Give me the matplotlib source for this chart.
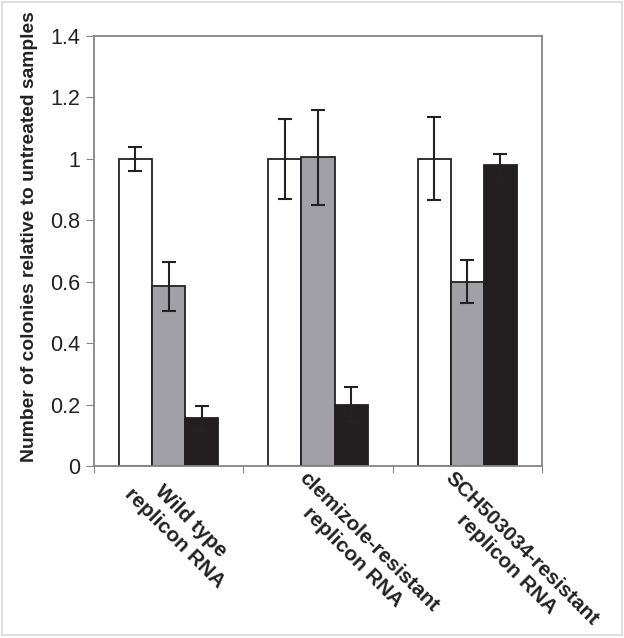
import numpy as np
import matplotlib.pyplot as plt
import matplotlib.transforms as mtransforms
from matplotlib.patches import Rectangle

# data
groups = ["Wild type\nreplicon RNA", "clemizole-resistant\nreplicon RNA", "SCH503034-resistant\nreplicon RNA"]
untreated = [1.0, 1.0, 1.0]
untreated_err = [0.04, 0.13, 0.135]
clemizole = [0.585, 1.005, 0.6]
clemizole_err = [0.08, 0.155, 0.07]
sch = [0.155, 0.2, 0.98]
sch_err = [0.04, 0.058, 0.035]

plt.rcParams['font.family'] = ['Liberation Sans', 'DejaVu Sans']

fig = plt.figure(figsize=(6.24, 6.38), dpi=100)
ax = fig.add_axes([0.1506, 0.2696, 0.718, 0.674])

x = np.arange(len(groups))
w = 0.222
ekw = dict(ecolor='#222222', elinewidth=1.5, capsize=5, capthick=1.5)
ax.bar(x - w, untreated, w, color='white', edgecolor='#222222', linewidth=1.3,
       yerr=untreated_err, error_kw=ekw, zorder=2)
ax.bar(x, clemizole, w, color='#a0a0a6', edgecolor='#222222', linewidth=1.3,
       yerr=clemizole_err, error_kw=ekw, zorder=2)
ax.bar(x + w, sch, w, color='#231f20', edgecolor='#231f20', linewidth=1.3,
       yerr=sch_err, error_kw=ekw, zorder=2)

ax.set_xlim(-0.5, 2.5)
ax.set_ylim(0, 1.4)
ax.set_yticks([0, 0.2, 0.4, 0.6, 0.8, 1.0, 1.2, 1.4])
ax.set_yticklabels(['0', '0.2', '0.4', '0.6', '0.8', '1', '1.2', '1.4'])
ax.tick_params(axis='y', direction='out', length=6, color='#868686',
               labelsize=15.5, labelcolor='#222222', pad=4)

# group separators on the x axis
ax.set_xticks([-0.5, 0.5, 1.5, 2.5])
ax.set_xticklabels([])
ax.tick_params(axis='x', direction='out', length=5, color='#868686')

# rotated category labels, first line starts just left of the group centre
shift_px = [-18, -9, -12]
base = mtransforms.blended_transform_factory(ax.transData, ax.transAxes)
for i, lab in enumerate(groups):
    tr = base + mtransforms.ScaledTranslation(shift_px[i] / 100, -2 / 100, fig.dpi_scale_trans)
    ax.text(x[i], 0, lab, transform=tr, rotation=-45, rotation_mode='anchor',
            ha='left', va='top', multialignment='center', fontsize=15,
            fontweight='bold', color='#222222', linespacing=1.25)

for s in ax.spines.values():
    s.set_color('#868686')
    s.set_linewidth(1.3)

ax.set_ylabel('Number of colonies relative to untreated samples', fontsize=13.9,
              fontweight='bold', color='#222222')
ax.yaxis.set_label_coords(-0.125, 0.533)

fig.patches.append(Rectangle((0.003, 0.004), 0.993, 0.993, transform=fig.transFigure,
                             fill=False, edgecolor='#d8d8d8', linewidth=1.2))

fig.savefig('out.png', dpi=100)
